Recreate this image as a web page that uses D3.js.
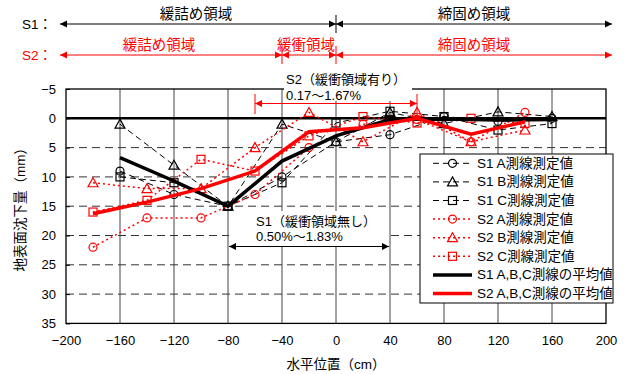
<!DOCTYPE html>
<html>
<head>
<meta charset="utf-8">
<script src="https://cdn.jsdelivr.net/npm/d3@7"></script>
<style>
  html, body { margin: 0; padding: 0; background: #fff; }
  svg { display: block; }
  text { font-family: "Liberation Sans", Arial, "Noto Sans CJK JP", sans-serif; }
</style>
</head>
<body>
<div id="chart"></div>
<script>
// Horizontal positions (cm) and settlement (mm) of each survey line
const xTicks = [-200, -160, -120, -80, -40, 0, 40, 80, 120, 160, 200];
const yTicks = [-5, 0, 5, 10, 15, 20, 25, 30, 35];

const s1X = [-160, -120, -80, -40, 0, 40, 80, 120, 160];
const s1A = [9, 13, 15, 10, 4, 2.8, -0.3, 0.5, 0];
const s1B = [1, 8, 15, 1, 4, -1, 0.9, -1.1, -0.3];
const s1C = [10, 11, 15, 11, 0.8, -1.2, -0.3, 2, 0.9];
const s1Avg = [6.7, 10.7, 15, 7.3, 3, 0.2, 0.1, 0.3, 0.2];

const s2X = [-180, -140, -100, -60, -20, 20, 60, 100, 140];
const s2A = [22, 17, 17, 13, 5, 1, 0.2, 4, -1];
const s2B = [11, 12, 12, 5, -1, 4, -1, 4, 2];
const s2C = [16, 14, 7, 9, 3, -0.3, 0.8, 0, 0.9];
const s2Avg = [16.3, 14.3, 12, 9, 2.3, 1.6, 0, 2.7, 0.6];

const legendLabels = [
  "S1 A測線測定値", "S1 B測線測定値", "S1 C測線測定値",
  "S2 A測線測定値", "S2 B測線測定値", "S2 C測線測定値",
  "S1 A,B,C測線の平均値", "S2 A,B,C測線の平均値"
];

// Region bands above the plot
const s1Zones = [["緩詰め領域", -200, 0], ["締固め領域", 0, 200]];
const s2Zones = [["緩詰め領域", -200, -40], ["緩衝領域", -40, 0], ["締固め領域", 0, 200]];

const W = 633, H = 374;
const svg = d3.select("#chart").append("svg").attr("width", W).attr("height", H);

const x = d3.scaleLinear().domain([-200, 200]).range([66, 606]);
const y = d3.scaleLinear().domain([-5, 35]).range([89, 323.4]);
const fmt = d => (d < 0 ? "\u2212" + Math.abs(d) : String(d));

const RED = "#ff0000";

// grid
const grid = svg.append("g");
grid.selectAll("line.v").data(xTicks.slice(1, -1)).join("line")
  .attr("x1", d => x(d)).attr("x2", d => x(d))
  .attr("y1", y(-5)).attr("y2", y(35))
  .attr("stroke", "#444").attr("stroke-width", 1);
grid.selectAll("line.h").data(yTicks.filter(d => d > 0 && d < 35)).join("line")
  .attr("x1", x(-200)).attr("x2", x(200))
  .attr("y1", d => y(d)).attr("y2", d => y(d))
  .attr("stroke", "#333").attr("stroke-width", 1).attr("stroke-dasharray", "8,5");
grid.append("line")
  .attr("x1", x(-200)).attr("x2", x(200)).attr("y1", y(0)).attr("y2", y(0))
  .attr("stroke", "#000").attr("stroke-width", 2.5);

// axes
const xAxis = d3.axisBottom(x).tickValues(xTicks).tickFormat(fmt).tickSize(0).tickPadding(12);
const yAxis = d3.axisLeft(y).tickValues(yTicks).tickFormat(fmt).tickSize(-4).tickPadding(10);
const gx = svg.append("g").attr("transform", `translate(0,${y(35)})`).call(xAxis);
const gy = svg.append("g").attr("transform", `translate(${x(-200)},0)`).call(yAxis);
[gx, gy].forEach(g => {
  g.select(".domain").remove();
  g.selectAll("text").attr("font-size", 13).attr("fill", "#000");
  g.selectAll("line").attr("stroke", "#000");
});

svg.append("rect")
  .attr("x", x(-200)).attr("y", y(-5))
  .attr("width", x(200) - x(-200)).attr("height", y(35) - y(-5))
  .attr("fill", "none").attr("stroke", "#000").attr("stroke-width", 1.3);

// axis titles
svg.append("text").attr("x", 336).attr("y", 369).attr("text-anchor", "middle")
  .attr("font-size", 13.5).text("水平位置（cm）");
svg.append("text").attr("transform", `translate(25,${y(15)}) rotate(-90)`)
  .attr("text-anchor", "middle").attr("font-size", 13.5).text("地表面沈下量（mm）");

// marker shapes
function drawMarker(g, shape, cx, cy, color) {
  if (shape === "circle") {
    g.append("circle").attr("cx", cx).attr("cy", cy).attr("r", 4)
      .attr("fill", "none").attr("stroke", color).attr("stroke-width", 1.2);
  } else if (shape === "triangle") {
    g.append("path").attr("d", `M${cx},${cy - 5}L${cx + 5},${cy + 4}L${cx - 5},${cy + 4}Z`)
      .attr("fill", "none").attr("stroke", color).attr("stroke-width", 1.2);
  } else {
    g.append("rect").attr("x", cx - 4).attr("y", cy - 4).attr("width", 8).attr("height", 8)
      .attr("fill", "none").attr("stroke", color).attr("stroke-width", 1.2);
  }
}

const line = d3.line().x(d => x(d[0])).y(d => y(d[1]));
const series = [
  { xs: s1X, ys: s1A, color: "#000", width: 1, dash: "6,4", shape: "circle" },
  { xs: s1X, ys: s1B, color: "#000", width: 1, dash: "6,4", shape: "triangle" },
  { xs: s1X, ys: s1C, color: "#000", width: 1, dash: "6,4", shape: "square" },
  { xs: s2X, ys: s2A, color: RED, width: 1.5, dash: "2,3", shape: "circle" },
  { xs: s2X, ys: s2B, color: RED, width: 1.5, dash: "2,3", shape: "triangle" },
  { xs: s2X, ys: s2C, color: RED, width: 1.5, dash: "2,3", shape: "square" },
  { xs: s1X, ys: s1Avg, color: "#000", width: 3.5, dash: null, shape: null },
  { xs: s2X, ys: s2Avg, color: RED, width: 3.5, dash: null, shape: null }
];

const plot = svg.append("g");
series.forEach(s => {
  const pts = s.xs.map((v, i) => [v, s.ys[i]]);
  plot.append("path").attr("d", line(pts)).attr("fill", "none")
    .attr("stroke", s.color).attr("stroke-width", s.width)
    .attr("stroke-dasharray", s.dash);
  if (s.shape) pts.forEach(p => drawMarker(plot, s.shape, x(p[0]), y(p[1]), s.color));
});

// arrowhead helper
function head(g, px, py, dir, color) {
  const L = 7, hw = 3.5;
  g.append("path")
    .attr("d", `M${px},${py}L${px - dir * L},${py - hw}L${px - dir * L},${py + hw}Z`)
    .attr("fill", color);
}
function dblArrow(g, x1, x2, yy, color) {
  g.append("line").attr("x1", x1).attr("x2", x2).attr("y1", yy).attr("y2", yy)
    .attr("stroke", color).attr("stroke-width", 1);
  head(g, x1, yy, -1, color);
  head(g, x2, yy, 1, color);
}

// slope notes inside the plot
const ann = svg.append("g");
// S1: no buffer zone
ann.append("rect").attr("x", x(-80) + 1).attr("y", 211).attr("width", x(40) - x(-80) - 2)
  .attr("height", 36).attr("fill", "#fff");
ann.append("text").attr("x", 256).attr("y", 226).attr("font-size", 13).text("S1（緩衝領域無し）");
ann.append("text").attr("x", 256).attr("y", 241).attr("font-size", 13).text("0.50%～1.83%");
dblArrow(ann, x(-80) + 1, x(40) - 1, 246.5, "#000");

// S2: with buffer zone
ann.append("rect").attr("x", 284).attr("y", 68).attr("width", 128).attr("height", 33).attr("fill", "#fff");
ann.append("text").attr("x", 286).attr("y", 84).attr("font-size", 13).text("S2（緩衝領域有り）");
ann.append("text").attr("x", 286).attr("y", 100).attr("font-size", 13).text("0.17～1.67%");
dblArrow(ann, x(-60), x(60), 103.5, RED);
[x(-60), x(60)].forEach(px => ann.append("line").attr("x1", px).attr("x2", px)
  .attr("y1", 94).attr("y2", 114).attr("stroke", RED).attr("stroke-width", 1));

// region bands
const bands = svg.append("g");
const ext = v => (v === -200 ? x(v) - 6 : v === 200 ? x(v) + 6 : x(v));
function zoneRow(zones, yy, color, label, shifts) {
  bands.append("text").attr("x", 22).attr("y", yy + 5).attr("font-size", 13.5)
    .attr("fill", color).text(label);
  zones.forEach(([name, a, b], i) => {
    dblArrow(bands, ext(a), ext(b), yy, color);
    bands.append("text").attr("x", (ext(a) + ext(b)) / 2 + shifts[i]).attr("y", yy - 5)
      .attr("text-anchor", "middle").attr("font-size", 14.5).attr("fill", color).text(name);
  });
  zones.slice(1).forEach(([, a]) => bands.append("line")
    .attr("x1", x(a)).attr("x2", x(a)).attr("y1", yy - 9).attr("y2", yy + 9)
    .attr("stroke", color).attr("stroke-width", 1));
}
zoneRow(s1Zones, 24, "#000", "S1：", [-2, 0]);
zoneRow(s2Zones, 55, RED, "S2：", [-12, -3, 0]);

// legend
const lg = svg.append("g");
lg.append("rect").attr("x", 420).attr("y", 154).attr("width", 193).attr("height", 149)
  .attr("fill", "#fff").attr("stroke", "#000").attr("stroke-width", 1);
series.forEach((s, i) => {
  const ly = 163.3 + i * 18.6;
  lg.append("line").attr("x1", 433).attr("x2", 472).attr("y1", ly).attr("y2", ly)
    .attr("stroke", s.color).attr("stroke-width", s.width).attr("stroke-dasharray", s.dash);
  if (s.shape) drawMarker(lg, s.shape, 452.5, ly, s.color);
  lg.append("text").attr("x", 477).attr("y", ly + 4.5).attr("font-size", 13.5)
    .attr("fill", "#000").text(legendLabels[i]);
});
</script>
</body>
</html>
